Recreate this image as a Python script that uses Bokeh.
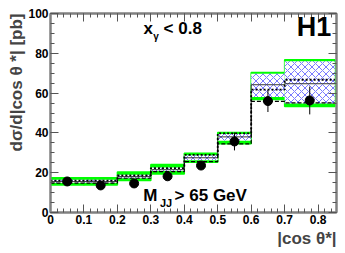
import math
from bokeh.plotting import figure
from bokeh.models import Range1d, LinearAxis, Label, FixedTicker, ColumnDataSource, Title
from bokeh.embed import file_html
from bokeh.resources import INLINE

# ---- data ----
bin_lo = [0.0, 0.1, 0.2, 0.3, 0.4, 0.5, 0.6, 0.7]
bin_hi = [0.1, 0.2, 0.3, 0.4, 0.5, 0.6, 0.7, 0.85]
data_x = [0.05, 0.15, 0.25, 0.35, 0.45, 0.55, 0.65, 0.775]
data_y = [15.6, 13.6, 14.6, 18.2, 23.6, 35.7, 56.0, 56.3]
data_err = [1.2, 1.2, 1.3, 1.5, 2.0, 4.5, 5.5, 7.0]
tot_lo = [13.8, 13.8, 16.1, 19.4, 25.3, 34.5, 56.8, 53.3]
tot_hi = [17.5, 17.5, 20.3, 24.1, 29.8, 40.2, 70.4, 76.7]
hatch_lo = [14.8, 14.8, 17.2, 20.8, 26.3, 36.0, 58.0, 54.8]
hatch_hi = [16.4, 16.4, 19.0, 22.6, 28.8, 39.5, 69.7, 76.0]
solid = [15.5, 15.5, 18.0, 21.5, 27.5, 38.0, 64.2, 64.7]
dotted = [16.0, 16.0, 18.6, 22.3, 29.0, 39.8, 61.7, 66.7]
dashed = [14.8, 14.8, 17.2, 20.5, 25.6, 34.5, 55.8, 55.1]
x_ticks = [0, 0.1, 0.2, 0.3, 0.4, 0.5, 0.6, 0.7, 0.8]
x_tick_labels = ["0", "0.1", "0.2", "0.3", "0.4", "0.5", "0.6", "0.7", "0.8"]
y_ticks = [0, 20, 40, 60, 80, 100]

FONT = "Liberation Sans"

p = figure(width=345, height=253, output_backend="svg", toolbar_location=None,
           x_range=Range1d(0, 0.855), y_range=Range1d(0, 100),
           min_border_left=50, min_border_right=9, min_border_top=13, min_border_bottom=41,
           x_axis_location=None, y_axis_location=None)
p.grid.visible = False
p.outline_line_color = "#808080"
p.outline_line_width = 2
p.background_fill_color = "white"
p.border_fill_color = "white"

def style_axis(ax, ticks, minor, labels=True, overrides=None):
    ax.ticker = FixedTicker(ticks=ticks, minor_ticks=minor)
    ax.axis_line_color = "#808080"
    ax.axis_line_width = 2
    ax.major_tick_in = 8
    ax.major_tick_out = 0
    ax.minor_tick_in = 4
    ax.minor_tick_out = 0
    ax.major_tick_line_color = "#555555"
    ax.minor_tick_line_color = "#555555"
    ax.major_label_standoff = 2
    ax.major_label_text_font = FONT
    ax.major_label_text_font_style = "bold"
    ax.major_label_text_font_size = "12px"
    ax.major_label_text_color = "black"
    if labels:
        if overrides:
            ax.major_label_overrides = overrides
    else:
        ax.major_label_overrides = {t: "" for t in ticks}
        ax.major_label_standoff = 0

x_minor = [round(i * 0.02, 2) for i in range(0, 43)]
y_minor = list(range(0, 101, 5))

xb = LinearAxis()
style_axis(xb, x_ticks, x_minor, True, dict(zip(x_ticks, x_tick_labels)))
p.add_layout(xb, "below")
xt = LinearAxis()
style_axis(xt, x_ticks, x_minor, False)
p.add_layout(xt, "above")
yl = LinearAxis()
style_axis(yl, y_ticks, y_minor, True)
p.add_layout(yl, "left")
yr = LinearAxis()
style_axis(yr, y_ticks, y_minor, False)
p.add_layout(yr, "right")

# axis titles (as side titles so they are not clipped)
p.add_layout(Title(text="dσ/d|cos θ *| [pb]", align="right", text_font=FONT,
                   text_font_style="bold", text_font_size="17px", standoff=0, offset=0), "left")
p.add_layout(Title(text="|cos θ*|", align="right", text_font=FONT,
                   text_font_style="bold", text_font_size="17px", standoff=0, offset=0), "below")

# bands
p.quad(left=bin_lo, right=bin_hi, bottom=tot_lo, top=tot_hi,
       fill_color="#00ff00", line_color="#00ff00", line_width=1.5)
p.quad(left=bin_lo, right=bin_hi, bottom=hatch_lo, top=hatch_hi,
       fill_color="white", line_color=None, hatch_pattern="x",
       hatch_color="#2020ff", hatch_scale=7, hatch_weight=0.6)

edges = bin_lo + [bin_hi[-1]]
p.step(x=edges, y=solid + [solid[-1]], mode="after", line_color="#333333", line_width=1)
p.step(x=edges, y=dotted + [dotted[-1]], mode="after", line_color="black", line_width=1.8, line_dash="2 2")
p.step(x=edges, y=dashed + [dashed[-1]], mode="after", line_color="black", line_width=1.2, line_dash="4 2")

# data
src = ColumnDataSource(dict(x=data_x, y=data_y,
                            lo=[y - e for y, e in zip(data_y, data_err)],
                            hi=[y + e for y, e in zip(data_y, data_err)]))
p.segment(x0="x", x1="x", y0="lo", y1="hi", source=src, line_color="black", line_width=1)
p.scatter(x="x", y="y", source=src, size=9, marker="circle", fill_color="black", line_color="black")

def lab(x, y, t, size, align="left", baseline="middle", angle=0, style="bold"):
    p.add_layout(Label(x=x, y=y, text=t, text_font=FONT, text_font_style=style,
                       text_font_size=size, text_align=align, text_baseline=baseline,
                       angle=angle, text_color="black"))

lab(0.278, 92.5, "x", "17px")
lab(0.307, 88.5, "γ", "10px")
lab(0.338, 92.5, "< 0.8", "17px")
lab(0.736, 93, "H1", "27px")
lab(0.277, 8.5, "M", "17px")
lab(0.327, 4.8, "JJ", "11px")
lab(0.371, 8.5, "> 65 GeV", "17px")

open("out.html", "w").write(file_html(p, INLINE))
